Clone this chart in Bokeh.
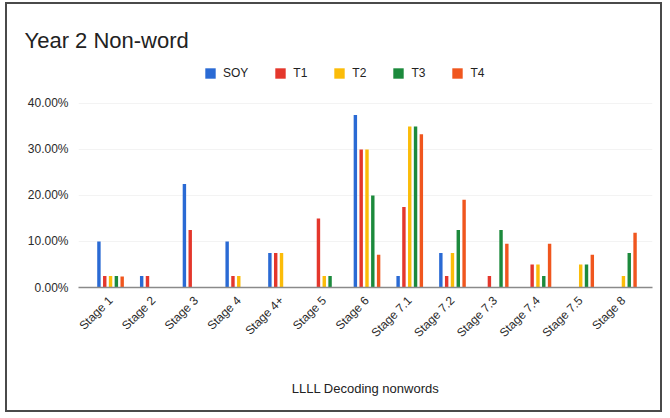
import math
from bokeh.plotting import figure
from bokeh.models import Range1d, FixedTicker, ColumnDataSource, Legend, LegendItem
from bokeh.embed import file_html
from bokeh.resources import INLINE

stages = ["Stage 1", "Stage 2", "Stage 3", "Stage 4", "Stage 4+", "Stage 5", "Stage 6",
          "Stage 7.1", "Stage 7.2", "Stage 7.3", "Stage 7.4", "Stage 7.5", "Stage 8"]
soy = [10, 2.5, 22.5, 10, 7.5, 0, 37.5, 2.5, 7.5, 0, 0, 0, 0]
t1 = [2.5, 2.5, 12.5, 2.5, 7.5, 15, 30, 17.5, 2.5, 2.5, 5, 0, 0]
t2 = [2.5, 0, 0, 2.5, 7.5, 2.5, 30, 35, 7.5, 0, 5, 5, 2.5]
t3 = [2.5, 0, 0, 0, 0, 2.5, 20, 35, 12.5, 12.5, 2.5, 5, 7.5]
t4 = [2.38, 0, 0, 0, 0, 0, 7.14, 33.33, 19.05, 9.52, 9.52, 7.14, 11.90]
series_names = ["SOY", "T1", "T2", "T3", "T4"]
series_values = [soy, t1, t2, t3, t4]
colors = ["#2a6ad4", "#e4372c", "#fbbc09", "#1c8a3c", "#f0561e"]
y_ticks = [0, 10, 20, 30, 40]
y_tick_labels = ["0.00%", "10.00%", "20.00%", "30.00%", "40.00%"]

FONT = "Liberation Sans"

p = figure(width=657, height=410, output_backend="svg", toolbar_location=None,
           x_range=Range1d(-0.75, 12.68), y_range=Range1d(0, 49.78),
           min_border_left=71, min_border_right=12, min_border_top=54, min_border_bottom=127)
p.outline_line_color = None
p.background_fill_color = "white"
p.border_fill_color = "white"
p.styles = {"border": "2px solid #4a4a4a", "margin-left": "5px", "margin-top": "2px"}

p.title.text = "Year 2 Non-word"
p.title.align = "left"
p.title.offset = -54
p.title.standoff = 11
p.title.text_font = FONT
p.title.text_font_size = "22px"
p.title.text_font_style = "normal"
p.title.text_color = "#222222"

idx = list(range(len(stages)))
slot = 0.136
bar_w = 0.08
items = []
for k, (name, vals, col) in enumerate(zip(series_names, series_values, colors)):
    off = (k - 2) * slot
    xs = [i + off for i in idx]
    src = ColumnDataSource(dict(x=xs, top=vals))
    p.vbar(x="x", top="top", width=bar_w, source=src, fill_color=col, line_color=None)
    # legend key: square marker renderer on the same data, hidden from the plot area
    key = p.scatter(x="x", y="top", source=src, marker="square", fill_color=col,
                    line_color=None, visible=False)
    items.append(LegendItem(label=name, renderers=[key]))

legend = Legend(items=items, orientation="horizontal", location=(119, 201),
                glyph_width=26, glyph_height=26, label_height=12, label_width=0,
                label_standoff=-2, spacing=19, padding=0, margin=0,
                border_line_color=None, background_fill_alpha=0,
                inactive_fill_alpha=0, click_policy="none",
                label_text_font=FONT, label_text_font_size="12px", label_text_color="#222222")
p.add_layout(legend)

# y axis
p.yaxis.ticker = FixedTicker(ticks=y_ticks)
p.yaxis.major_label_overrides = {t: s for t, s in zip(y_ticks, y_tick_labels)}
p.yaxis.axis_line_color = None
p.yaxis.major_tick_line_color = None
p.yaxis.minor_tick_line_color = None
p.yaxis.major_label_standoff = 4
p.yaxis.major_label_text_font = FONT
p.yaxis.major_label_text_font_size = "12px"
p.yaxis.major_label_text_color = "#2a2a2a"
p.ygrid.ticker = FixedTicker(ticks=y_ticks)
p.ygrid.grid_line_color = "#f3f3f3"
p.xgrid.grid_line_color = None

# x axis
p.xaxis.ticker = FixedTicker(ticks=idx)
p.xaxis.major_label_overrides = {i: s for i, s in zip(idx, stages)}
p.xaxis.major_label_orientation = math.pi / 4
p.xaxis.axis_line_color = "#8a8a8a"
p.xaxis.axis_line_width = 1.5
p.xaxis.major_tick_line_color = None
p.xaxis.minor_tick_line_color = None
p.xaxis.major_label_standoff = 5
p.xaxis.major_label_text_font = FONT
p.xaxis.major_label_text_font_size = "12px"
p.xaxis.major_label_text_color = "#2a2a2a"
p.xaxis.axis_label = "LLLL Decoding nonwords"
p.xaxis.axis_label_text_font = FONT
p.xaxis.axis_label_text_font_size = "13px"
p.xaxis.axis_label_text_font_style = "normal"
p.xaxis.axis_label_text_color = "#222222"
p.xaxis.axis_label_standoff = 33

open("out.html", "w").write(file_html(p, INLINE))
